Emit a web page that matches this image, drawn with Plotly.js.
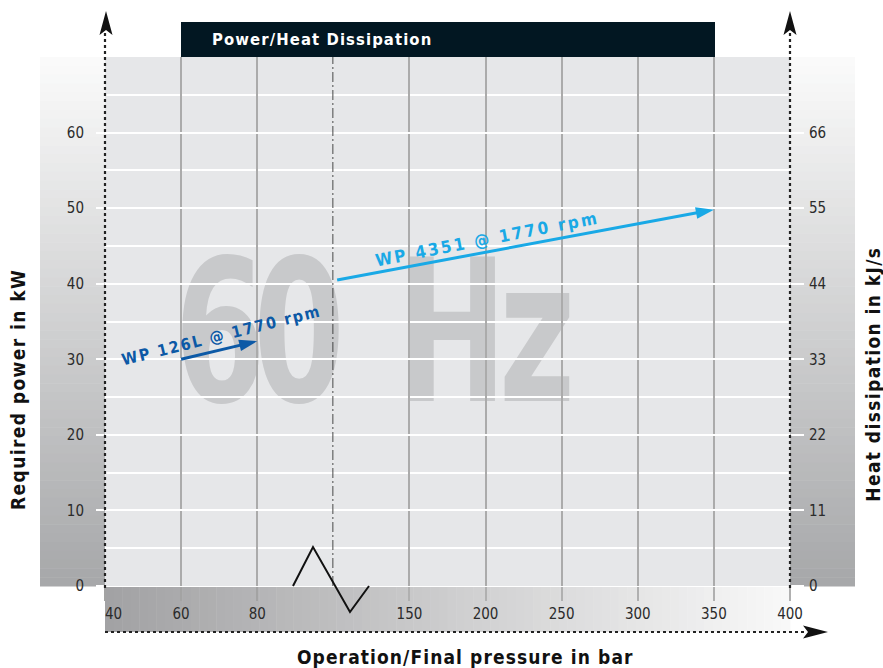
<!DOCTYPE html>
<html>
<head>
<meta charset="utf-8">
<script src="https://cdn.plot.ly/plotly-3.0.1.min.js"></script>
<style>
  html, body { margin: 0; padding: 0; background: #ffffff; }
  #chart { width: 883px; height: 668px; }
  .gtitle { letter-spacing: 1.1px; }
  .annotation[data-index="0"] text { letter-spacing: 1.1px; }
  .annotation[data-index="1"] text,
  .annotation[data-index="2"] text { letter-spacing: 1.4px; }
  .annotation[data-index="3"] text { letter-spacing: 1.8px; }
  .annotation[data-index="4"] text { letter-spacing: 2.4px; }
  .layer-below .shapelayer text { transform: scaleX(0.74); transform-box: fill-box; transform-origin: center; }
</style>
</head>
<body>
<div id="chart"></div>
<script>
// ---------------- data ----------------
const lowPressureTicks  = [40, 60, 80];            // bar, left segment of broken axis
const lowPressureLabels = ['\u00a0\u00a0\u00a0\u00a040', '60', '80'];
const highPressureTicks = [150, 200, 250, 300, 350, 400]; // bar, right segment
const highPressureLabels = ['150', '200', '250', '300', '350', '400'];
const powerTicks = [0, 10, 20, 30, 40, 50, 60];    // kW
const heatTicks  = [0, 11, 22, 33, 44, 55, 66];    // kJ/s

const wp126LPressure = [60, 80];
const wp126LPower    = [30.0, 32.4];
const wp4351Pressure = [102.5, 350];
const wp4351Power    = [40.5, 49.8];

const seriesNames = ['WP 126L @ 1770 rpm', 'WP 4351 @ 1770 rpm'];
const watermark = ['6', '0', 'H', 'z'];

// ---------------- layout helpers ----------------
const W = 883, H = 668;
const L = 105, R = 790, T = 57, B = 586;
const px = X => (X - L) / (R - L);
const py = Y => (B - Y) / (B - T);
const path = pts => 'M ' + pts.map(p => px(p[0]).toFixed(5) + ',' + py(p[1]).toFixed(5)).join(' L ') + ' Z';
const openPath = pts => 'M ' + pts.map(p => px(p[0]).toFixed(5) + ',' + py(p[1]).toFixed(5)).join(' L ');

const FONT = "'Liberation Sans Narrow', 'DejaVu Sans Condensed', 'Arial Narrow', sans-serif";
const DARK_BLUE = '#0c59a6';
const LIGHT_BLUE = '#19a9e6';

function lerpColor(a, b, t) {
  const ca = [parseInt(a.slice(1,3),16), parseInt(a.slice(3,5),16), parseInt(a.slice(5,7),16)];
  const cb = [parseInt(b.slice(1,3),16), parseInt(b.slice(3,5),16), parseInt(b.slice(5,7),16)];
  const c = ca.map((v, i) => Math.round(v + (cb[i] - v) * t));
  return 'rgb(' + c.join(',') + ')';
}

const shapes = [];
// big "60 Hz" watermark, under the grid (shape labels on the lower layer)
const wmX = [220, 299, 452, 537];
watermark.forEach((ch, i) => {
  shapes.push({type: 'rect', xref: 'paper', yref: 'paper', layer: 'below',
    x0: px(wmX[i] - 45), x1: px(wmX[i] + 45), y0: py(395), y1: py(242),
    line: {width: 0}, fillcolor: 'rgba(0,0,0,0)',
    label: {text: ch, textposition: 'middle center', padding: 0,
      font: {family: FONT, size: 198, weight: 700, color: '#c8c9cb'}}});
});
// vertical gradient side panels
const NV = 60;
for (let i = 0; i < NV; i++) {
  const y0 = T + (B - T) * i / NV, y1 = T + (B - T) * (i + 1) / NV + 0.5;
  const col = lerpColor('#fbfbfb', '#a6a7a9', (i + 0.5) / NV);
  shapes.push({type: 'rect', xref: 'paper', yref: 'paper', layer: 'below',
    x0: px(40), x1: px(L), y0: py(y0), y1: py(y1), line: {width: 0}, fillcolor: col});
  shapes.push({type: 'rect', xref: 'paper', yref: 'paper', layer: 'below',
    x0: px(R), x1: px(855), y0: py(y0), y1: py(y1), line: {width: 0}, fillcolor: col});
}
// horizontal gradient bottom strip
const NH = 80;
for (let i = 0; i < NH; i++) {
  const x0 = L + (R - L) * i / NH, x1 = L + (R - L) * (i + 1) / NH + 0.5;
  const col = lerpColor('#a1a1a3', '#f9f9f9', (i + 0.5) / NH);
  shapes.push({type: 'rect', xref: 'paper', yref: 'paper', layer: 'below',
    x0: px(x0), x1: px(x1), y0: py(587), y1: py(632), line: {width: 0}, fillcolor: col});
}
// title bar
shapes.push({type: 'rect', xref: 'paper', yref: 'paper', layer: 'above',
  x0: px(181), x1: px(715), y0: py(57), y1: py(22), line: {width: 0}, fillcolor: '#021722'});
// axis break line (dash-dot) at 100 bar
shapes.push({type: 'line', xref: 'x', yref: 'paper', x0: 100, x1: 100, y0: 0, y1: 1,
  line: {color: '#333333', width: 1.8, dash: '10px,3px,2px,3px'}});
// zigzag break symbol
shapes.push({type: 'path', xref: 'paper', yref: 'paper', layer: 'above',
  path: openPath([[293, 586], [313, 547], [350, 612], [369, 586]]),
  line: {color: '#111', width: 2}});
// dotted axis lines
shapes.push({type: 'line', xref: 'paper', yref: 'paper', x0: 0, x1: 0, y0: py(588), y1: py(32),
  line: {color: '#222', width: 2.2, dash: 'dot'}});
shapes.push({type: 'line', xref: 'paper', yref: 'paper', x0: 1, x1: 1, y0: py(588), y1: py(32),
  line: {color: '#222', width: 2.2, dash: 'dot'}});
shapes.push({type: 'line', xref: 'paper', yref: 'paper', x0: 0, x1: px(807), y0: py(632), y1: py(632),
  line: {color: '#222', width: 2.2, dash: 'dot'}});
// arrow heads
[[106], [790]].forEach(([cx]) => {
  shapes.push({type: 'path', xref: 'paper', yref: 'paper', layer: 'above',
    path: path([[cx, 11], [cx - 6.5, 35], [cx, 30], [cx + 6.5, 35]]),
    fillcolor: '#111', line: {width: 0}});
});
shapes.push({type: 'path', xref: 'paper', yref: 'paper', layer: 'above',
  path: path([[828, 632], [803, 625.5], [808, 632], [803, 638.5]]),
  fillcolor: '#111', line: {width: 0}});

// ---------------- traces ----------------
const traces = [
  {
    x: wp126LPressure, y: wp126LPower, xaxis: 'x', yaxis: 'y',
    name: seriesNames[0], type: 'scatter', mode: 'lines+markers',
    line: {color: DARK_BLUE, width: 3},
    marker: {symbol: 'arrow', size: [0, 19], angleref: 'previous', color: DARK_BLUE,
      opacity: 1, line: {width: 0}},
    cliponaxis: false, hoverinfo: 'skip', showlegend: false
  },
  {
    x: wp4351Pressure, y: wp4351Power, xaxis: 'x2', yaxis: 'y',
    name: seriesNames[1], type: 'scatter', mode: 'lines+markers',
    line: {color: LIGHT_BLUE, width: 3},
    marker: {symbol: 'arrow', size: [0, 19], angleref: 'previous', color: LIGHT_BLUE,
      opacity: 1, line: {width: 0}},
    cliponaxis: false, hoverinfo: 'skip', showlegend: false
  },
  {
    x: [], y: [], xaxis: 'x2', yaxis: 'y2', type: 'scatter', mode: 'lines',
    hoverinfo: 'skip', showlegend: false
  }
];

// ---------------- annotations ----------------
const annotations = [
  {text: 'Operation/Final pressure in bar', xref: 'paper', yref: 'paper', x: px(466), y: py(657),
   showarrow: false, xanchor: 'center', yanchor: 'middle',
   font: {family: FONT, size: 19, weight: 700, color: '#111'}},
  {text: 'Required power in kW', xref: 'paper', yref: 'paper', x: px(18), y: py(390), textangle: -90,
   showarrow: false, xanchor: 'center', yanchor: 'middle',
   font: {family: FONT, size: 19, weight: 700, color: '#111'}},
  {text: 'Heat dissipation in kJ/s', xref: 'paper', yref: 'paper', x: px(873), y: py(374), textangle: -90,
   showarrow: false, xanchor: 'center', yanchor: 'middle',
   font: {family: FONT, size: 19, weight: 700, color: '#111'}},
  {text: seriesNames[0], xref: 'paper', yref: 'paper', x: px(221), y: py(335), textangle: -14,
   showarrow: false, xanchor: 'center', yanchor: 'middle',
   font: {family: FONT, size: 16, weight: 700, color: DARK_BLUE}},
  {text: seriesNames[1], xref: 'paper', yref: 'paper', x: px(487), y: py(239), textangle: -11,
   showarrow: false, xanchor: 'center', yanchor: 'middle',
   font: {family: FONT, size: 17, weight: 700, color: LIGHT_BLUE}}
];

// ---------------- layout ----------------
const tickFont = {family: FONT, size: 15, color: '#2b2b2b'};
const layout = {
  width: W, height: H,
  margin: {l: L, r: W - R, t: T, b: H - B, pad: 0},
  paper_bgcolor: '#ffffff',
  plot_bgcolor: '#e6e7e9',
  showlegend: false,
  title: {
    text: 'Power/Heat Dissipation',
    x: px(212), xref: 'paper', xanchor: 'left',
    y: 1 - 39 / H, yref: 'container', yanchor: 'middle',
    font: {family: FONT, size: 16.5, weight: 700, color: '#ffffff'}
  },
  xaxis: {
    domain: [0, 1 / 3], range: [40, 100], anchor: 'y',
    tickmode: 'array', tickvals: lowPressureTicks, ticktext: lowPressureLabels,
    ticks: 'outside', ticklen: 14, tickwidth: 2, tickcolor: '#a3a3a3',
    showgrid: true, gridcolor: '#ababab', gridwidth: 2,
    zeroline: false, showline: false, tickfont: tickFont, fixedrange: true
  },
  xaxis2: {
    domain: [1 / 3, 1], range: [100, 400], anchor: 'y',
    tickmode: 'array', tickvals: highPressureTicks, ticktext: highPressureLabels,
    ticks: 'outside', ticklen: 14, tickwidth: 2, tickcolor: '#b0b0b0',
    showgrid: true, gridcolor: '#ababab', gridwidth: 2,
    zeroline: false, showline: false, tickfont: tickFont, fixedrange: true
  },
  yaxis: {
    range: [0, 70], anchor: 'x',
    tickmode: 'array', tickvals: powerTicks,
    ticks: 'outside', ticklen: 8, tickwidth: 2, tickcolor: '#ffffff',
    ticklabelstandoff: 9,
    showgrid: true, gridcolor: '#ffffff', gridwidth: 2,
    minor: {dtick: 5, tick0: 0, showgrid: true, gridcolor: '#ffffff', gridwidth: 2, ticks: ''},
    zeroline: false, showline: false, tickfont: tickFont, fixedrange: true
  },
  yaxis2: {
    range: [0, 77], overlaying: 'y', side: 'right', anchor: 'x2',
    tickmode: 'array', tickvals: heatTicks,
    ticks: 'outside', ticklen: 13, tickwidth: 2, tickcolor: '#ffffff',
    ticklabelstandoff: 2,
    showgrid: false, zeroline: false, showline: false, tickfont: tickFont, fixedrange: true
  },
  shapes: shapes,
  annotations: annotations
};

Plotly.newPlot('chart', traces, layout, {displayModeBar: false, staticPlot: true});
</script>
</body>
</html>
